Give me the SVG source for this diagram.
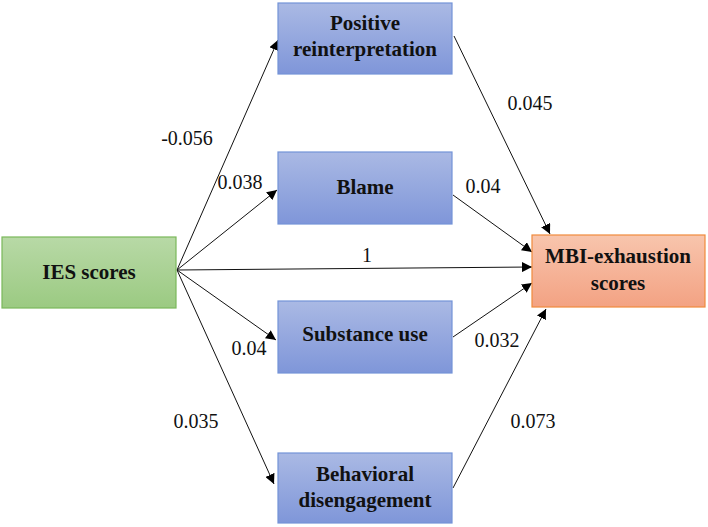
<svg xmlns="http://www.w3.org/2000/svg" width="708" height="527" viewBox="0 0 708 527">
<defs>
<linearGradient id="gb" x1="0" y1="0" x2="0" y2="1"><stop offset="0" stop-color="#aab9e4"/><stop offset="1" stop-color="#7f96d9"/></linearGradient>
<linearGradient id="gg" x1="0" y1="0" x2="0" y2="1"><stop offset="0" stop-color="#b8d9a6"/><stop offset="1" stop-color="#9bca82"/></linearGradient>
<linearGradient id="go" x1="0" y1="0" x2="0" y2="1"><stop offset="0" stop-color="#f8c5ad"/><stop offset="1" stop-color="#f3a283"/></linearGradient>
<marker id="ah" viewBox="0 0 10 10" refX="10" refY="5" markerWidth="10" markerHeight="10" markerUnits="userSpaceOnUse" orient="auto"><path d="M0,0 L10,5 L0,10 z" fill="#000"/></marker>
</defs>
<style>
.bb{fill:url(#gb);stroke:#7393d8;stroke-width:1.2}
.bg{fill:url(#gg);stroke:#7ab85a;stroke-width:1.2}
.bo{fill:url(#go);stroke:#f08a3c;stroke-width:1.2}
.t{font-family:'Liberation Serif','Times New Roman','DejaVu Serif',serif;font-weight:bold;font-size:21px;text-anchor:middle;fill:#111}
.l{font-family:'Liberation Serif','Times New Roman','DejaVu Serif',serif;font-size:20px;text-anchor:middle;fill:#111}
.c{stroke:#111;stroke-width:1;fill:none;marker-end:url(#ah)}
</style>
<g id="connectors">
<line class="c" x1="177" y1="270" x2="278" y2="40"/>
<line class="c" x1="177" y1="270" x2="277" y2="190"/>
<line class="c" x1="177" y1="270" x2="532" y2="267"/>
<line class="c" x1="177" y1="270" x2="276" y2="340"/>
<line class="c" x1="177" y1="270" x2="274" y2="484"/>
<line class="c" x1="454" y1="36" x2="550" y2="234"/>
<line class="c" x1="453" y1="195" x2="532" y2="252"/>
<line class="c" x1="453" y1="337" x2="532" y2="283"/>
<line class="c" x1="453" y1="488" x2="546" y2="309"/>
<text class="l" x="187" y="145">-0.056</text>
<text class="l" x="240" y="189">0.038</text>
<text class="l" x="367" y="262">1</text>
<text class="l" x="249" y="355">0.04</text>
<text class="l" x="196" y="428">0.035</text>
<text class="l" x="530" y="110">0.045</text>
<text class="l" x="483" y="193">0.04</text>
<text class="l" x="497" y="347">0.032</text>
<text class="l" x="533" y="428">0.073</text>
</g>
<g id="ies"><rect class="bg" x="2" y="237" width="174" height="71"/><text class="t" x="89" y="279">IES scores</text></g>
<g id="positive"><rect class="bb" x="278" y="3" width="174" height="71"/><text class="t" x="365" y="30">Positive</text><text class="t" x="365" y="56">reinterpretation</text></g>
<g id="blame"><rect class="bb" x="278" y="152" width="174" height="72"/><text class="t" x="365" y="194">Blame</text></g>
<g id="substance"><rect class="bb" x="278" y="301" width="174" height="72"/><text class="t" x="365" y="341">Substance use</text></g>
<g id="behavioral"><rect class="bb" x="278" y="453" width="174" height="70"/><text class="t" x="365" y="481">Behavioral</text><text class="t" x="365" y="507">disengagement</text></g>
<g id="mbi"><rect class="bo" x="532" y="235" width="173" height="72"/><text class="t" x="618" y="263">MBI-exhaustion</text><text class="t" x="618" y="290">scores</text></g>
</svg>
